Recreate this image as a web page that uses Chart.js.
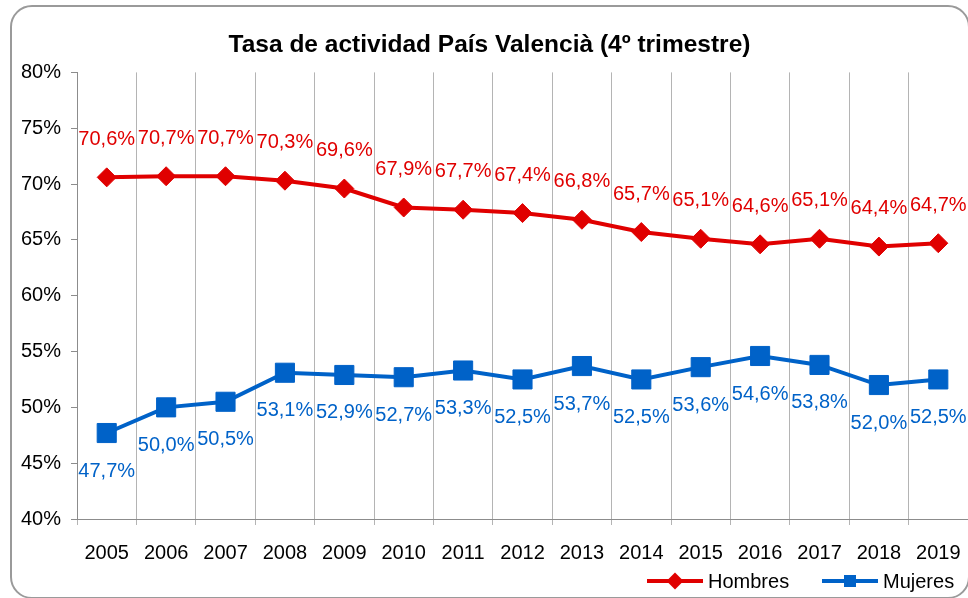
<!DOCTYPE html>
<html>
<head>
<meta charset="utf-8">
<script src="https://cdn.jsdelivr.net/npm/chart.js@4"></script>
<style>
  html, body { margin: 0; padding: 0; background: #fff; }
  #wrap { position: relative; width: 968px; height: 598px; overflow: hidden; font-family: 'Liberation Sans', Arial, sans-serif; }
  #frame { position: absolute; left: 10px; top: 5px; width: 960px; height: 594px; border: 2px solid #9a9a9a; border-radius: 22px; box-sizing: border-box; pointer-events: none; }
  canvas { position: absolute; left: 0; top: 0; }
  .lg-line { position: absolute; height: 4px; width: 56px; top: 579px; }
  .lg-mark { position: absolute; }
  .lg-text { position: absolute; top: 569px; font-size: 20px; line-height: 24px; color: #000; white-space: nowrap; }
</style>
</head>
<body>
<div id="wrap">
  <canvas id="chart" width="968" height="598"></canvas>
  <div id="legend"></div>
  <div id="frame"></div>
</div>
<script>
// DATA
const years = ["2005", "2006", "2007", "2008", "2009", "2010", "2011", "2012", "2013", "2014", "2015", "2016", "2017", "2018", "2019"];
const hombres = [70.6, 70.7, 70.7, 70.3, 69.6, 67.9, 67.7, 67.4, 66.8, 65.7, 65.1, 64.6, 65.1, 64.4, 64.7];
const mujeres = [47.7, 50.0, 50.5, 53.1, 52.9, 52.7, 53.3, 52.5, 53.7, 52.5, 53.6, 54.6, 53.8, 52.0, 52.5];

const RED = "#e00000";
const BLUE = "#0062c8";
const FONT = "'Liberation Sans', Arial, sans-serif";

// data labels above / below points
const dataLabels = {
  id: "dataLabels",
  afterDatasetsDraw(chart) {
    const ctx = chart.ctx;
    ctx.save();
    ctx.font = "20px " + FONT;
    ctx.textAlign = "center";
    ctx.textBaseline = "middle";
    chart.data.datasets.forEach((ds, i) => {
      const meta = chart.getDatasetMeta(i);
      meta.data.forEach((pt, j) => {
        const txt = ds.data[j].toFixed(1).replace(".", ",") + "%";
        ctx.fillStyle = ds.borderColor;
        ctx.fillText(txt, pt.x, pt.y + ds.labelOffset);
      });
    });
    ctx.restore();
  },
};

const chart = new Chart(document.getElementById("chart"), {
  type: "line",
  data: {
    labels: years,
    datasets: [
      {
        label: "Hombres",
        data: hombres,
        borderColor: RED,
        backgroundColor: RED,
        borderWidth: 4,
        pointStyle: "rectRot",
        pointRadius: 9.5,
        pointBorderWidth: 1,
        labelOffset: -38,
      },
      {
        label: "Mujeres",
        data: mujeres,
        borderColor: BLUE,
        backgroundColor: BLUE,
        borderWidth: 4,
        pointStyle: "rect",
        pointRadius: 13.5,
        pointBorderWidth: 1,
        labelOffset: 38,
      },
    ],
  },
  options: {
    responsive: false,
    animation: false,
    layout: { autoPadding: false, padding: { left: 11, right: 0, top: 0, bottom: 17 } },
    plugins: {
      title: {
        display: true,
        text: "Tasa de actividad País Valencià (4º trimestre)",
        color: "#000",
        font: { family: FONT, size: 24.5, weight: "bold" },
        padding: { top: 31, bottom: 12 },
      },
      legend: { display: false },
      tooltip: { enabled: false },
    },
    scales: {
      x: {
        offset: true,
        afterFit(scale) {
          // let the plot run to the right edge
          scale.paddingRight = 0;
        },
        grid: {
          offset: true,
          color: "#b4b4b4",
          lineWidth: 1,
          tickLength: 6,
        },
        border: { color: "#8c8c8c", width: 1 },
        ticks: {
          color: "#000",
          padding: 16,
          font: { family: FONT, size: 20 },
          maxRotation: 0,
        },
      },
      y: {
        min: 40,
        max: 80,
        grid: {
          drawOnChartArea: false,
          color: "#8c8c8c",
          tickLength: 6,
        },
        border: { color: "#8c8c8c", width: 1 },
        ticks: {
          stepSize: 5,
          color: "#000",
          padding: 10,
          font: { family: FONT, size: 20 },
          callback: (v) => v + "%",
        },
      },
    },
  },
  plugins: [dataLabels],
});

// LEGEND (line + marker, bottom right)
const legendEl = document.getElementById("legend");
const legendX = [647, 822];
chart.data.datasets.forEach((ds, i) => {
  const x = legendX[i];
  const line = document.createElement("span");
  line.className = "lg-line";
  line.style.left = x + "px";
  line.style.background = ds.borderColor;
  legendEl.appendChild(line);

  const mark = document.createElement("span");
  mark.className = "lg-mark";
  mark.style.background = ds.borderColor;
  if (ds.pointStyle === "rectRot") {
    mark.style.cssText += "left:" + (x + 22) + "px;top:575px;width:12px;height:12px;transform:rotate(45deg);";
  } else {
    mark.style.cssText += "left:" + (x + 22) + "px;top:575px;width:12px;height:12px;";
  }
  legendEl.appendChild(mark);

  const txt = document.createElement("span");
  txt.className = "lg-text";
  txt.style.left = (x + 61) + "px";
  txt.textContent = ds.label;
  legendEl.appendChild(txt);
});
</script>
</body>
</html>
